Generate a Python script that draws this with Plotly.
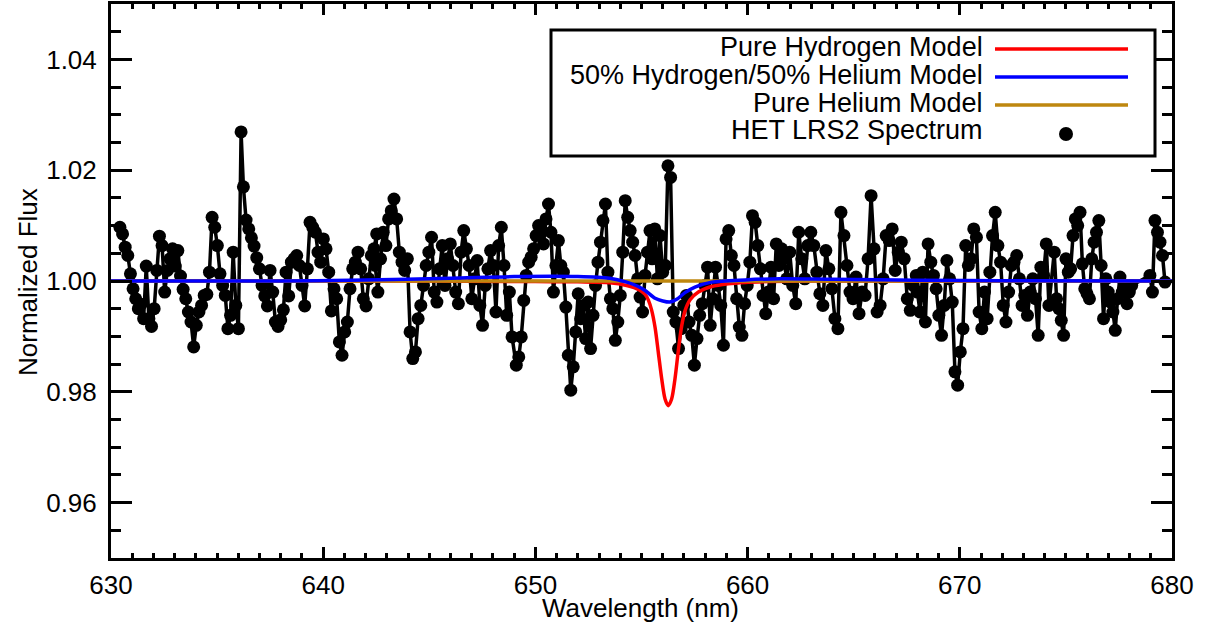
import numpy as np
import plotly.graph_objects as go

# ---------------- DATA ----------------
# HET LRS2 spectrum: deviation from 1.0 in units of 0.001 (per-mille), in wavelength chunks
chunk_ranges = [
    (630.42, 636.13),
    (636.24, 642.52),
    (642.45, 648.90),
    (649.10, 655.40),
    (655.50, 661.60),
    (661.70, 667.95),
    (668.00, 674.20),
    (674.45, 678.10),
    (678.96, 679.67),
]
dev_A = [9.7, 8.5, 6.1, 4.6, 1.3, -1.4, -3.2, -5.0, -4.2, -6.8, 2.7, -6.8, -8.2, -5.0, 1.9, 8.1,
         6.4, -2.0, 1.9, 4.0, 5.8, 2.7, 5.5, 0.9, -1.5, -3.2, -5.6, -7.4, -11.9, -8.0, -5.6, -4.4,
         -2.6, -2.4, 1.6, 11.5, 9.7, 6.4, 1.3, -0.8, -2.6, -8.6, -6.2, 5.2, -4.4, -8.6, 26.9]
dev_B = [17.0, 11.0, 9.4, 7.8, 6.3, 4.2, 2.2, -0.8, -2.7, -4.5, 1.9, -2.0, -7.4, -8.2, -7.0, -5.2,
         1.6, -2.7, 3.4, 4.0, 4.6, 2.8, -0.8, -4.5, 2.2, 10.6, 9.7, 8.8, 5.2, 3.4, 7.6, 5.8, 1.6,
         -5.4, -1.4, -3.2, -11.0, -13.4, -9.2, -7.4, -1.4, 2.2, 3.4, 5.2, 2.2, -3.2, -4.5, 0.4,
         4.6, 5.8, 8.5]
dev_C = [2.8, -2.0, 4.0, 8.8, 6.4, 11.2, 12.7, 14.8, 11.2, 5.2, 3.4, 1.9, 4.0, -9.2, -14.0, -12.8,
         -6.8, -4.4, -0.8, 2.8, 5.2, 7.9, -2.0, -3.8, 2.2, 6.4, -0.8, 4.0, 6.7, 2.8, -2.0, -4.1,
         5.2, 9.1, 5.8, 2.8, -3.2, 0.4, 3.7, -4.4, -8.0, -0.8, 2.2, 5.5, 2.8, -5.6, 6.4, 9.7, 2.8,
         -6.2, -2.0, -10.1]
dev_D = [-15.2, -13.7, -10.1, -3.5, 1.0, 3.4, 4.3, 5.8, 8.2, 10.0, 9.4, 6.7, 11.2, 13.9, 8.8, -2.0,
         2.8, 7.3, 2.8, 1.6, -4.7, -13.4, -19.7, -15.5, -9.2, -2.3, -6.8, -4.4, -10.4, -3.8, -12.2,
         -6.2, -0.8, 3.4, 7.0, 10.9, 13.9, 1.6, -3.2, -5.0, -10.7, -7.4, -2.6, 5.2, 14.5, 11.5, 9.1,
         7.0, 4.6, 0.4, -2.9, -5.6, 1.0, 5.2, 9.1]
dev_E = [4.0, 9.4, 0.4, 8.2, 1.6, 2.8, 20.8, 18.7, -5.6, -7.4, -12.2, -8.6, -4.4, -2.6, -7.4, -9.8,
         -15.2, -10.4, -6.2, -4.1, -0.8, 2.5, -8.0, -3.2, 2.5, -0.8, -4.4, -11.6, 7.6, 9.1, 4.6, 2.8,
         -3.2, -8.3, -9.8, -4.1, -0.8, 3.4, 11.8, 10.6, 6.4, 2.2, -2.6, -5.9, -2.0, 2.5, -3.2, 6.7,
         2.8, 5.8]
dev_F = [4.0, 0.4, 5.2, -0.8, -4.1, 8.8, 4.0, 0.4, 6.4, 8.8, 6.4, 1.6, -2.3, -4.4, 5.5, 2.2, -1.4,
         -6.8, -8.6, 12.4, 8.2, 2.8, -2.0, -3.2, 0.7, -5.9, -2.0, -2.6, 4.0, 15.4, 5.8, -5.6, -4.4,
         0.4, 8.2, 7.3, 9.4, 1.9, 5.2, 7.0, 4.0, -3.2, -5.3, -0.8, 1.0]
dev_G = [-2.0, -5.6, 1.6, -7.4, 6.7, 3.4, 1.0, -1.4, -6.2, -9.8, -4.4, 3.7, 0.4, -3.8, -16.4, -18.8,
         -12.8, -8.6, 6.4, 2.8, 4.0, 9.4, 7.9, -5.6, -8.6, -2.0, -6.8, 1.6, 8.2, 12.4, 6.4, 3.4,
         -4.4, -7.4, -2.0, 2.8, 3.4, 4.6, 0.4, -4.4, -2.6, -6.2, -2.0, 0.4, -3.2, -9.8, 2.5, 1.0,
         6.7, -4.4]
dev_H = [5.2, -3.2, -5.0, -7.1, -9.8, 4.0, 1.6, 2.2, 8.2, 11.2, 10.0, 12.4, 3.1, -1.4, -2.3, -3.2,
         4.0, 7.0, 8.8, 10.9, 2.8, -6.8, 0.4, -2.0, -3.8, -5.6, -8.9, -3.2, 0.7, -2.0, -1.4, -4.1,
         -2.0, -0.8]
dev_I = [1.0, -2.0, 10.9, 8.8, 7.0, 4.6, -0.2]
spectrum_chunks = [dev_A, dev_B, dev_C, dev_D, dev_E, dev_F, dev_G, dev_H, dev_I]

# Model curves (read at sample wavelengths), deviation in per-mille
h_wl = [630, 645, 650, 652, 653.5, 654.3, 654.9, 655.17, 655.32, 655.48, 655.64, 655.79, 655.95,
        656.11, 656.26, 656.42, 656.58, 656.74, 656.89, 657.05, 657.29, 657.68, 658.31, 659.09,
        659.88, 661, 663, 680]
h_dev = [0, 0, -0.1, -0.15, -0.3, -0.8, -1.6, -2.4, -3.4, -5.3, -8.4, -12.8, -17.6, -21.3, -22.5,
         -21.3, -17.6, -12.4, -8.2, -5.4, -3.4, -2.0, -1.0, -0.5, -0.25, -0.1, 0, 0]
mix_wl = [630, 638, 642, 646, 649, 652, 653.5, 654.3, 654.8, 655.17, 655.64, 656.0, 656.34, 656.7,
          657.05, 657.52, 658.31, 659.88, 661.5, 664, 668, 672, 680]
mix_dev = [0, 0, 0.2, 0.5, 0.8, 0.8, 0.5, -0.2, -0.9, -1.7, -3.1, -3.6, -3.8, -3.2, -2.1, -1.1,
           -0.2, 0.2, 0.4, 0.3, 0.15, 0.05, 0]
he_wl = [630, 680]
he_dev = [0, 0]

series_names = ["Pure Hydrogen Model", "50% Hydrogen/50% Helium Model",
                "Pure Helium Model", "HET LRS2 Spectrum"]
x_ticks = [630, 640, 650, 660, 670, 680]
y_ticks = [0.96, 0.98, 1.00, 1.02, 1.04]

# ---------------- BUILD ----------------
wl, flux = [], []
for (a, b), d in zip(chunk_ranges, spectrum_chunks):
    wl.extend(np.linspace(a, b, len(d)).tolist())
    flux.extend([1 + v / 1000.0 for v in d])

def to_flux(dev):
    return [1 + v / 1000.0 for v in dev]

RED = "rgb(255,0,0)"
BLUE = "rgb(0,0,255)"
BROWN = "rgb(190,135,15)"
FONT = "Liberation Sans, Arial, Helvetica, sans-serif"

fig = go.Figure()
fig.add_trace(go.Scatter(x=wl, y=flux, mode="lines+markers", cliponaxis=True,
                         line=dict(color="black", width=3.5),
                         marker=dict(color="black", size=13, line=dict(width=0)),
                         name=series_names[3], showlegend=False))
fig.add_trace(go.Scatter(x=h_wl, y=to_flux(h_dev), mode="lines",
                         line=dict(color=RED, width=3.5, shape="spline", smoothing=0.8),
                         name=series_names[0], showlegend=False))
fig.add_trace(go.Scatter(x=he_wl, y=to_flux(he_dev), mode="lines",
                         line=dict(color=BROWN, width=3.5),
                         name=series_names[2], showlegend=False))
fig.add_trace(go.Scatter(x=mix_wl, y=to_flux(mix_dev), mode="lines",
                         line=dict(color=BLUE, width=3.5, shape="spline", smoothing=0.8),
                         name=series_names[1], showlegend=False))

L, R, T, B = 111, 33, 4, 74
W, H = 1205, 632
pw, ph = W - L - R, H - T - B

def px(xp):
    return (xp - L) / pw

def py(yp):
    return (H - B - yp) / ph

axis_common = dict(showline=True, linecolor="black", linewidth=3, mirror="ticks",
                   ticks="inside", tickcolor="black", tickwidth=2.5, showgrid=False,
                   zeroline=False, automargin=False,
                   tickfont=dict(family=FONT, size=26, color="black"))

fig.update_xaxes(range=[630, 680], tickvals=x_ticks, ticklen=11, ticklabelstandoff=2,
                 minor=dict(dtick=1, tick0=630, ticklen=5, ticks="inside", tickcolor="black",
                            tickwidth=2.5, showgrid=False),
                 **axis_common)
fig.update_yaxes(range=[0.95, 1.05], tickvals=y_ticks, tickformat=".2f", ticklen=21,
                 ticklabelstandoff=6,
                 minor=dict(dtick=0.005, tick0=0.95, ticklen=10, ticks="inside",
                            tickcolor="black", tickwidth=2.5, showgrid=False),
                 **axis_common)

shapes = [dict(type="rect", xref="paper", yref="paper", x0=px(551), x1=px(1155),
               y0=py(156), y1=py(30), line=dict(color="black", width=3),
               fillcolor="white", layer="above")]
annotations = []
legend_colors = [RED, BLUE, BROWN]
text_rows = [47, 75, 103, 130]
line_rows = [49, 77, 105]
for i, name in enumerate(series_names):
    annotations.append(dict(xref="paper", yref="paper", x=px(985), y=py(text_rows[i]),
                            xanchor="right", yanchor="middle", text=name, showarrow=False,
                            font=dict(family=FONT, size=27, color="black")))
for i, c in enumerate(legend_colors):
    shapes.append(dict(type="line", xref="paper", yref="paper", x0=px(995), x1=px(1128),
                       y0=py(line_rows[i]), y1=py(line_rows[i]),
                       line=dict(color=c, width=3.5), layer="above"))
shapes.append(dict(type="circle", xref="paper", yref="paper", xsizemode="pixel",
                   ysizemode="pixel", xanchor=px(1066), yanchor=py(134),
                   x0=-7, x1=7, y0=-7, y1=7, fillcolor="black",
                   line=dict(color="black", width=0), layer="above"))

annotations.append(dict(xref="paper", yref="paper", x=px(640), y=py(608), xanchor="center",
                        yanchor="middle", text="Wavelength (nm)", showarrow=False,
                        font=dict(family=FONT, size=26, color="black")))
annotations.append(dict(xref="paper", yref="paper", x=px(28), y=py(282), xanchor="center",
                        yanchor="middle", text="Normalized Flux", textangle=-90,
                        showarrow=False, font=dict(family=FONT, size=26, color="black")))

fig.update_layout(width=W, height=H, margin=dict(l=L, r=R, t=T, b=B, pad=0, autoexpand=False),
                  paper_bgcolor="white", plot_bgcolor="white", showlegend=False,
                  shapes=shapes, annotations=annotations)

# remove the browser's default page margin so the figure sits at the window origin
fig.write_html("out.html", config={"displayModeBar": False},
               post_script="document.body.style.margin='0';document.body.style.overflow='hidden';")
